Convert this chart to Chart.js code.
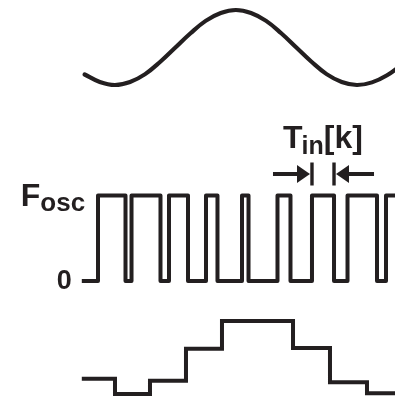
<!DOCTYPE html>
<html>
<head>
<meta charset="utf-8">
<script src="https://cdn.jsdelivr.net/npm/chart.js@4.4.1/dist/chart.umd.min.js"></script>
<style>
html,body{margin:0;padding:0;background:#fff;}
canvas{display:block;}
</style>
</head>
<body>
<canvas id="c" width="395" height="398"></canvas>
<script>
// Time is measured in clock periods k (k = 0 at the first rising edge).

// Input signal, normalised amplitude
const sineTime  = [-0.37, 0.05, 0.47, 0.89, 1.31, 1.73, 2.15, 2.57, 2.99, 3.41, 3.83, 4.25, 4.67, 5.09, 5.51, 5.93, 6.35, 6.77, 7.19, 7.61, 8.03, 8.45];
const sineValue = [-0.72, -0.92, -1.00, -0.92, -0.71, -0.38, 0.00, 0.38, 0.71, 0.92, 1.00, 0.92, 0.71, 0.38, 0.00, -0.38, -0.71, -0.92, -1.00, -0.93, -0.74, -0.45];

// Oscillator pulse train: rising and falling edge times
const pulseStart = -0.45;
const pulseStop  = 8.4;
const pulseRise  = [0, 0.931, 1.972, 3.0, 4.0, 4.986, 5.944, 6.931, 8.0];
const pulseFall  = [0.764, 1.736, 2.5, 3.319, 4.181, 5.347, 6.556, 7.75];

// Pulse level labels (value, main text, subscript)
const levelValue = [0, 1];
const levelText  = ['0', 'F'];
const levelSub   = ['', 'osc'];

// Annotated pulse width T_in[k]
const markedPulse = 6;
const periodText  = ['T', 'in', '[k]'];

// Reconstructed (held) output: step times and levels
const stairTime  = [-0.45, 0.472, 1.444, 2.444, 3.444, 5.417, 6.444, 7.472, 8.4];
const stairLevel = [0.21, 0.00, 0.18, 0.62, 1.00, 0.63, 0.16, 0.01, 0.01];

const INK = '#231f20';
const W = 395, H = 398;
const FONT = '"Liberation Sans", Arial, sans-serif';

// Scale range so that vTop lands at pixel pTop and vBot at pixel pBot
function band(pTop, pBot, vTop, vBot) {
  const span = (vTop - vBot) * H / (pBot - pTop);
  const max = vTop + pTop * span / H;
  return { min: max - span, max: max };
}

// x: 36 px per period, k = 0 at x = 98
const xMin = -98 / 36;
const xMax = xMin + W / 36;

const sinePts = sineTime.map((t, i) => ({ x: t, y: sineValue[i] }));

const pulsePts = [{ x: pulseStart, y: 0 }];
pulseRise.forEach((t, i) => {
  pulsePts.push({ x: t, y: 1 });
  if (i < pulseFall.length) pulsePts.push({ x: pulseFall[i], y: 0 });
});
pulsePts.push({ x: pulseStop, y: 1 });

const stairPts = stairTime.map((t, i) => ({ x: t, y: stairLevel[i] }));

const annotate = {
  id: 'annotate',
  afterDatasetsDraw(chart) {
    const { ctx, scales } = chart;
    const x = scales.x, yP = scales.yP;
    const yHi = yP.getPixelForValue(levelValue[1]);
    const yLo = yP.getPixelForValue(levelValue[0]);
    const x0 = x.getPixelForValue(pulseStart);
    ctx.save();
    ctx.fillStyle = INK;
    ctx.textBaseline = 'alphabetic';

    // F_osc label
    ctx.textAlign = 'left';
    ctx.font = 'bold 32px ' + FONT;
    const fx = x0 - 61;
    ctx.fillText(levelText[1], fx, yHi + 10);
    const fw = ctx.measureText(levelText[1]).width;
    ctx.font = 'bold 26px ' + FONT;
    ctx.fillText(levelSub[1], fx + fw, yHi + 15);

    // 0 label
    ctx.textAlign = 'right';
    ctx.font = 'bold 27px ' + FONT;
    ctx.fillText(levelText[0], x0 - 10, yLo + 7.5);

    // T_in[k] marker
    const xa = x.getPixelForValue(pulseRise[markedPulse]);
    const xb = x.getPixelForValue(pulseFall[markedPulse]);
    const ya = yHi - 21.5;
    // limit bars
    ctx.fillRect(xa - 1.7, yHi - 33, 3.4, 23);
    ctx.fillRect(xb - 1.7, yHi - 33, 3.4, 23);
    // left arrow
    ctx.fillRect(xa - 39, ya - 2, 25, 4);
    ctx.beginPath();
    ctx.moveTo(xa - 2, ya);
    ctx.lineTo(xa - 15, ya - 9);
    ctx.lineTo(xa - 15, ya + 9);
    ctx.closePath();
    ctx.fill();
    // right arrow
    ctx.fillRect(xb + 14, ya - 2, 26, 4);
    ctx.beginPath();
    ctx.moveTo(xb + 2, ya);
    ctx.lineTo(xb + 15, ya - 9);
    ctx.lineTo(xb + 15, ya + 9);
    ctx.closePath();
    ctx.fill();

    // label text
    ctx.textAlign = 'left';
    let tx = xa - 29;
    ctx.font = 'bold 32px ' + FONT;
    ctx.fillText(periodText[0], tx, yHi - 47.5);
    tx += ctx.measureText(periodText[0]).width - 1;
    ctx.font = 'bold 25px ' + FONT;
    ctx.fillText(periodText[1], tx, yHi - 42);
    tx += ctx.measureText(periodText[1]).width;
    ctx.font = 'bold 32px ' + FONT;
    ctx.fillText(periodText[2], tx, yHi - 47.5);
    ctx.restore();
  }
};

const yS = band(10, 85, 1, -1);
const yP = band(195.5, 281, 1, 0);
const yQ = band(321, 394, 1, 0);

new Chart(document.getElementById('c'), {
  type: 'line',
  data: {
    datasets: [
      {
        data: sinePts, yAxisID: 'yS',
        borderColor: INK, borderWidth: 4.2,
        tension: 0.4, borderCapStyle: 'round',
        pointRadius: 0, fill: false
      },
      {
        data: pulsePts, yAxisID: 'yP',
        borderColor: INK, borderWidth: 4, stepped: 'before',
        borderJoinStyle: 'round',
        pointRadius: 0, fill: false
      },
      {
        data: stairPts, yAxisID: 'yQ',
        borderColor: INK, borderWidth: 4, stepped: 'before',
        borderJoinStyle: 'miter',
        pointRadius: 0, fill: false
      }
    ]
  },
  options: {
    responsive: false,
    animation: false,
    events: [],
    layout: { padding: 0 },
    plugins: { legend: { display: false }, tooltip: { enabled: false }, title: { display: false } },
    scales: {
      x: { type: 'linear', min: xMin, max: xMax, display: false },
      yS: { type: 'linear', min: yS.min, max: yS.max, display: false },
      yP: { type: 'linear', min: yP.min, max: yP.max, display: false },
      yQ: { type: 'linear', min: yQ.min, max: yQ.max, display: false }
    }
  },
  plugins: [annotate]
});
</script>
</body>
</html>
